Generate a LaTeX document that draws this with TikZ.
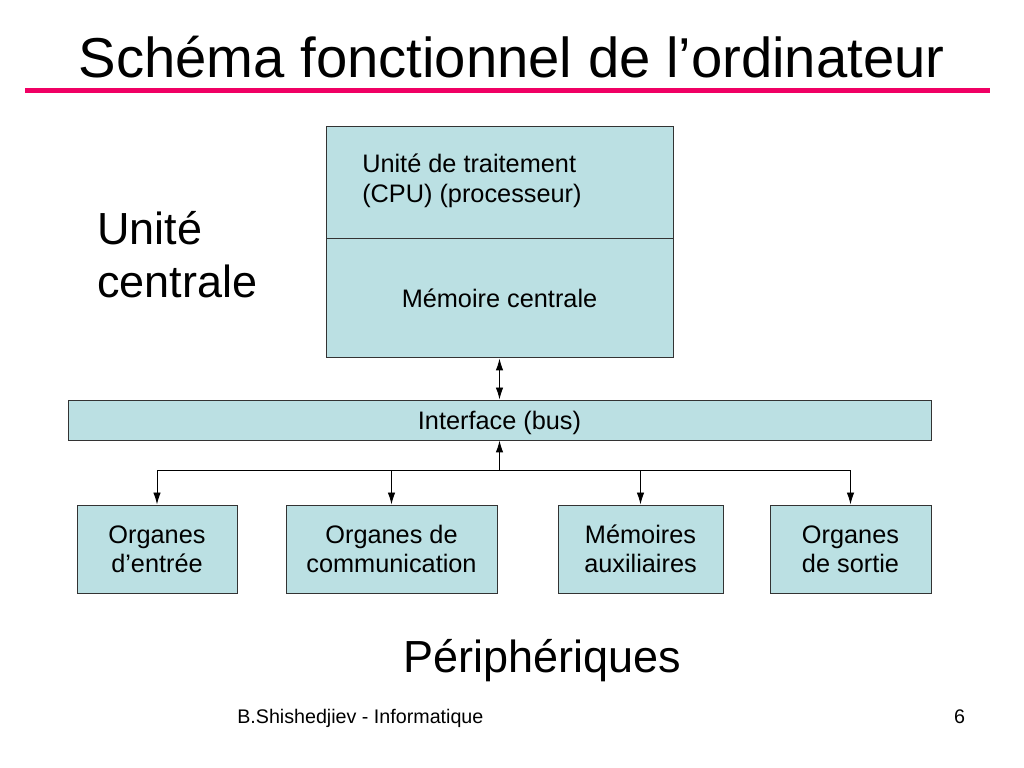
\documentclass[tikz,border=0pt]{standalone}
\usepackage{fontspec}
\setmainfont{Liberation Sans}
\usetikzlibrary{arrows.meta}
\definecolor{bleuclair}{RGB}{187,224,227}
\definecolor{rose}{RGB}{240,0,100}
\begin{document}
\begin{tikzpicture}[scale=1]
 \tikzstyle{boite}=[rectangle, draw=black!80, fill=bleuclair, line width=0.7pt, align=center, inner sep=0pt, font=\fontsize{18}{20.6}\selectfont]
 \tikzstyle{fleche}=[-{Latex[length=3mm,width=1.9mm]}, line width=0.7pt]
 \tikzstyle{double}=[{Latex[length=3mm,width=1.9mm]}-{Latex[length=3mm,width=1.9mm]}, line width=0.7pt]
 \useasboundingbox (0,0) rectangle (25.6,19.2);
 %
 \node[anchor=base, inner sep=0pt, font=\fontsize{40}{48}\selectfont] (titre) at (12.79, 17.25) {Schéma fonctionnel de l’ordinateur};
 \draw[rose, line width=3pt] (0.625, 16.9375) -- (24.75, 16.9375);
 %
 \node[anchor=west, align=left, inner sep=0pt, font=\fontsize{32}{37.7}\selectfont] (uc) at (2.425, 12.825) {Unité\\centrale};
 %
 \node[boite, minimum width=8.675cm, minimum height=2.8cm] (cpu) at (12.4875, 14.625) {};
 \node[anchor=west, align=left, inner sep=0pt, font=\fontsize{18}{21.3}\selectfont] (cputxt) at (9.05, 14.6875) {Unité de traitement\\(CPU) (processeur)};
 \node[boite, minimum width=8.675cm, minimum height=2.975cm] (mem) at (12.4875, 11.7375) {Mémoire centrale};
 %
 \node[boite, minimum width=21.575cm, minimum height=1cm, text height=0.62cm, text depth=0.12cm] (bus) at (12.4875, 8.7) {Interface (bus)};
 \coordinate (jonction) at (12.4875, 7.45);
 %
 \node[boite, minimum width=4cm, minimum height=2.2cm] (entree) at (3.925, 5.475) {Organes\\ d’entrée};
 \node[boite, minimum width=5.275cm, minimum height=2.2cm] (comm) at (9.7875, 5.475) {Organes de\\communication};
 \node[boite, minimum width=4.125cm, minimum height=2.2cm] (aux) at (16.0125, 5.475) {Mémoires\\auxiliaires};
 \node[boite, minimum width=4.025cm, minimum height=2.2cm] (sortie) at (21.2625, 5.475) {Organes\\de sortie};
 %
 \node[anchor=base, inner sep=0pt, font=\fontsize{32}{38}\selectfont] (periph) at (13.55, 2.375) {Périphériques};
 \node[anchor=base west, inner sep=0pt, font=\fontsize{14}{16}\selectfont] (auteur) at (5.925, 1.1) {B.Shishedjiev - Informatique};
 \node[anchor=base, inner sep=0pt, font=\fontsize{14}{16}\selectfont] (page) at (23.99, 1.1) {6};
 %%
 \draw[double] (mem) -- (bus);
 \draw[fleche] (jonction) -- (bus);
 \draw[fleche] (jonction) -| (entree);
 \draw[fleche] (jonction) -| (comm);
 \draw[fleche] (jonction) -| (aux);
 \draw[fleche] (jonction) -| (sortie);
\end{tikzpicture}
\end{document}
